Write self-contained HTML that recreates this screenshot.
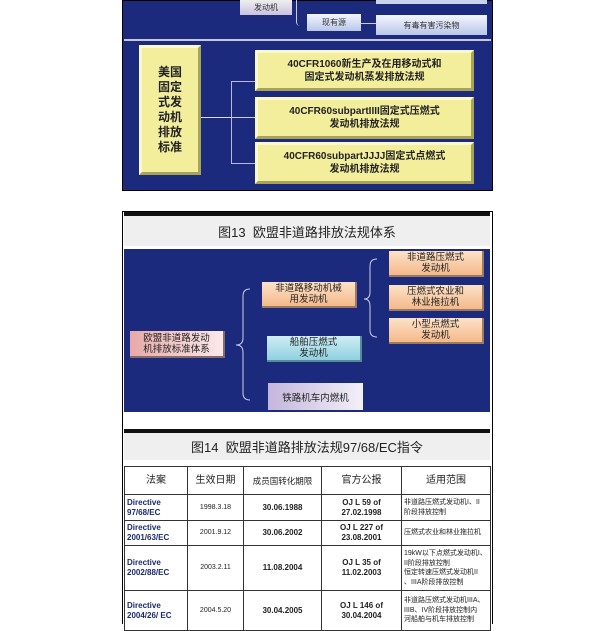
<!DOCTYPE html>
<html><head><meta charset="utf-8"><style>
*{margin:0;padding:0;box-sizing:border-box}
body{width:606px;height:624px;background:#fff;position:relative;overflow:hidden;font-family:"Liberation Sans","Noto Sans CJK SC",sans-serif}
.a{position:absolute}
.c{display:flex;align-items:center;justify-content:center;text-align:center}
.blue{background:#1b2a7c}
.y{background:#f3ee9c;border:3px solid;border-color:#fbf8d0 #a9a35a #a9a35a #fbf8d0;color:#222;font-size:10px;font-weight:bold;line-height:13px}
.pe{background:linear-gradient(#fde2c8,#f4b98a);border-right:2px solid #9a7a60;border-bottom:2px solid #9a7a60;color:#222;font-size:9.5px;line-height:11px}
td{border:1px solid #333;font-size:8px;line-height:10px;text-align:center;color:#222;padding:0;overflow:hidden;white-space:nowrap}
td.l{text-align:left;padding-left:2px;font-size:7px;line-height:9.5px}
td.d{text-align:left;font-weight:bold;color:#1b2a6c;padding-left:2px}
</style></head><body>
<!-- panel 1 -->
<div class="a blue" style="left:122px;top:0;width:371px;height:191px;border:1px solid #000"></div>
<div class="a" style="left:124px;top:39px;width:367px;height:2px;background:#c8c8d8"></div>
<div class="a c" style="left:240px;top:0;width:52px;height:15px;background:linear-gradient(#eee,#cbc1e0);font-size:8px;color:#333">发动机</div>
<div class="a c" style="left:307px;top:14px;width:54px;height:17px;background:linear-gradient(#f4f6ff,#b9c6e8);font-size:8px;color:#333">现有源</div>
<div class="a" style="left:361px;top:23px;width:15px;height:1px;background:#ccc"></div>
<div class="a" style="left:376px;top:0;width:111px;height:4px;background:#c8d4ee"></div>
<div class="a c" style="left:376px;top:15px;width:111px;height:20px;background:linear-gradient(#f4f6ff,#b9c6e8);font-size:8px;color:#333">有毒有害污染物</div>
<div class="a" style="left:296px;top:0;width:6px;height:26px;border-left:1px solid #ccc;border-bottom-left-radius:4px"></div>
<div class="a c y" style="left:139px;top:45px;width:62px;height:130px;font-size:12px;line-height:15px">美国<br>固定<br>式发<br>动机<br>排放<br>标准</div>
<div class="a" style="left:201px;top:117px;width:30px;height:1px;background:#ddd"></div>
<div class="a" style="left:231px;top:81px;width:24px;height:83px;border:1px solid #b8b8e8;border-right:none"></div>
<div class="a" style="left:231px;top:117px;width:24px;height:1px;background:#ccc"></div>
<div class="a c y" style="left:255px;top:50px;width:219px;height:41px">40CFR1060新生产及在用移动式和<br>固定式发动机蒸发排放法规</div>
<div class="a c y" style="left:255px;top:97px;width:219px;height:42px">40CFR60subpartIIII固定式压燃式<br>发动机排放法规</div>
<div class="a c y" style="left:255px;top:142px;width:219px;height:42px">40CFR60subpartJJJJ固定式点燃式<br>发动机排放法规</div>
<!-- panel 2 -->
<div class="a" style="left:122px;top:211px;width:371px;height:413px;border:1px solid #000;border-bottom:none"></div>
<div class="a" style="left:124px;top:212px;width:366px;height:4px;background:#111"></div>
<div class="a c" style="left:124px;top:216px;width:366px;height:30px;background:#efefef;font-size:13px;color:#222">图13&nbsp; 欧盟非道路排放法规体系</div>
<div class="a blue" style="left:124px;top:249px;width:366px;height:163px"></div>
<div class="a c" style="left:130px;top:331px;width:95px;height:27px;background:linear-gradient(90deg,#e7a8a8,#fbeaea);border-right:2px solid #8a6a6a;border-bottom:2px solid #8a6a6a;font-size:9.5px;line-height:11px;color:#222">欧盟非道路发动<br>机排放标准体系</div>
<svg class="a" style="left:0;top:0" width="606" height="624"><g fill="none" stroke="#cfcfe8" stroke-width="1">
<path d="M250 289 Q243 289 243 296 L243 338 Q243 345 236 345 Q243 345 243 352 L243 393 Q243 400 250 400"/>
<path d="M377 259 Q370 259 370 266 L370 292 Q370 299 364 299 Q370 299 370 306 L370 330 Q370 337 377 337"/></g></svg>
<div class="a c pe" style="left:262px;top:282px;width:95px;height:26px">非道路移动机械<br>用发动机</div>
<div class="a c" style="left:267px;top:336px;width:95px;height:26px;background:linear-gradient(#cfeef5,#8fd0e0);border-right:2px solid #5a8a9a;border-bottom:2px solid #5a8a9a;font-size:9.5px;line-height:11px;color:#222">船舶压燃式<br>发动机</div>
<div class="a c" style="left:268px;top:383px;width:95px;height:27px;background:linear-gradient(90deg,#c4b6dc,#f3f0f8);font-size:9.5px;color:#222">铁路机车内燃机</div>
<div class="a c pe" style="left:389px;top:251px;width:95px;height:26px">非道路压燃式<br>发动机</div>
<div class="a c pe" style="left:389px;top:285px;width:95px;height:26px">压燃式农业和<br>林业拖拉机</div>
<div class="a c pe" style="left:389px;top:318px;width:95px;height:26px">小型点燃式<br>发动机</div>
<!-- panel 3 -->
<div class="a" style="left:124px;top:429px;width:366px;height:4px;background:#111"></div>
<div class="a c" style="left:124px;top:433px;width:366px;height:27px;background:#efefef;font-size:13px;color:#222">图14&nbsp; 欧盟非道路排放法规97/68/EC指令</div>
<table class="a" style="left:124px;top:466px;width:366px;border-collapse:collapse;table-layout:fixed">
<colgroup><col style="width:63px"><col style="width:56px"><col style="width:78px"><col style="width:80px"><col style="width:89px"></colgroup>
<tr style="height:28px"><td style="font-size:10px">法案</td><td style="font-size:10px">生效日期</td><td style="font-size:8.5px">成员国转化期限</td><td style="font-size:10px">官方公报</td><td style="font-size:10px">适用范围</td></tr>
<tr style="height:26px"><td class="d">Directive<br>97/68/EC</td><td style="font-size:7px">1998.3.18</td><td style="font-weight:bold">30.06.1988</td><td style="font-weight:bold">OJ L 59 of<br>27.02.1998</td><td class="l">非道路压燃式发动机I、II<br>阶段排放控制</td></tr>
<tr style="height:25px"><td class="d">Directive<br>2001/63/EC</td><td style="font-size:7px">2001.9.12</td><td style="font-weight:bold">30.06.2002</td><td style="font-weight:bold">OJ L 227 of<br>23.08.2001</td><td class="l">压燃式农业和林业拖拉机</td></tr>
<tr style="height:45px"><td class="d">Directive<br>2002/88/EC</td><td style="font-size:7px">2003.2.11</td><td style="font-weight:bold">11.08.2004</td><td style="font-weight:bold">OJ L 35 of<br>11.02.2003</td><td class="l">19kW以下点燃式发动机I、<br>II阶段排放控制<br>恒定转速压燃式发动机II<br>、IIIA阶段排放控制</td></tr>
<tr style="height:40px"><td class="d">Directive<br>2004/26/ EC</td><td style="font-size:7px">2004.5.20</td><td style="font-weight:bold">30.04.2005</td><td style="font-weight:bold">OJ L 146 of<br>30.04.2004</td><td class="l">非道路压燃式发动机IIIA、<br>IIIB、IV阶段排放控制内<br>河船舶与机车排放控制</td></tr>
</table>
</body></html>
